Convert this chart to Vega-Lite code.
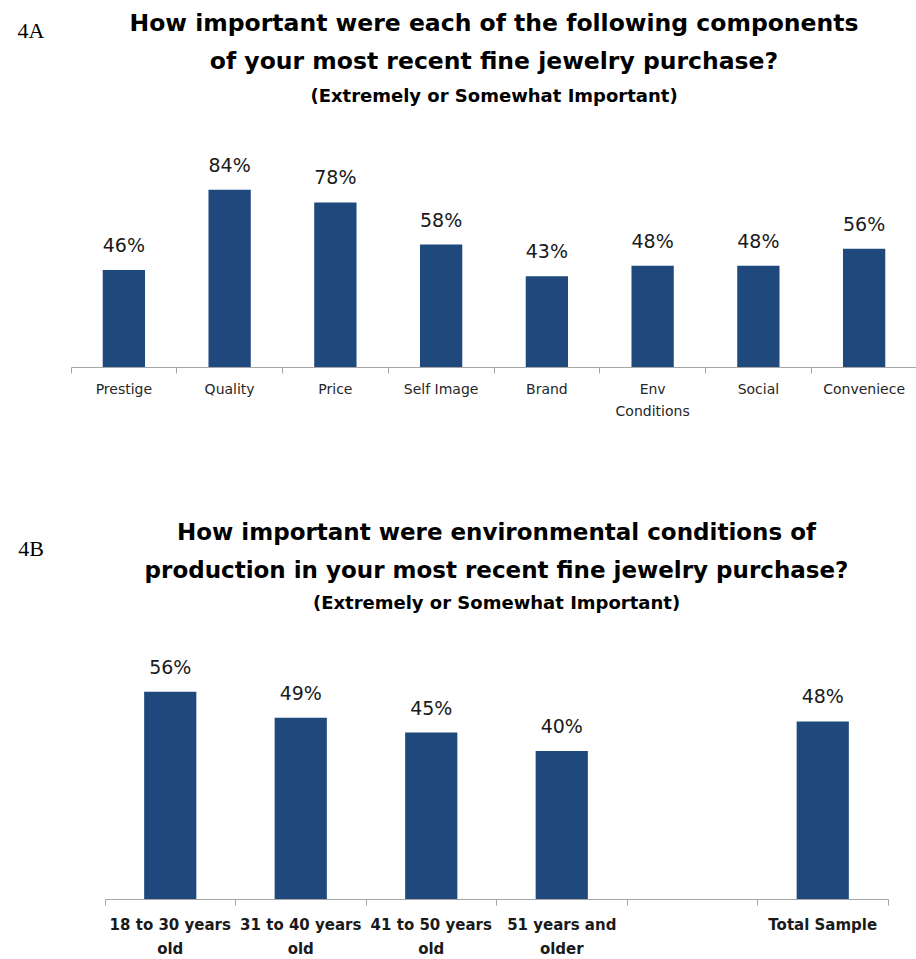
{
  "$schema": "https://vega.github.io/schema/vega-lite/v6.json",
  "padding": {"top": 11, "left": 0, "right": 0, "bottom": 0},
  "background": "white",
  "config": {"view": {"stroke": null}, "font": "DejaVu Sans"},
  "spacing": 103,
  "vconcat": [
    {
      "spacing": 8,
      "hconcat": [
        {
          "width": 62, "height": 1,
          "data": {"values": [{"tag": "4A"}]},
          "mark": {"type": "text", "font": "Liberation Serif", "fontSize": 22, "color": "black", "baseline": "middle", "dy": -126},
          "encoding": {"text": {"field": "tag"}}
        },
        {
          "title": {
            "text": ["How important were each of the following components", "of your most recent fine jewelry purchase?"],
            "subtitle": "(Extremely or Somewhat Important)",
            "fontSize": 23.5, "fontWeight": "bold", "lineHeight": 38, "color": "black", "font": "DejaVu Sans",
            "subtitleFont": "DejaVu Sans", "subtitleFontSize": 18, "subtitleFontWeight": "bold", "subtitleColor": "black",
            "subtitlePadding": 15, "offset": 50, "anchor": "middle"
          },
          "width": 846, "height": 211,
          "data": {"values": [
            {"component": "Prestige", "share": 0.46},
            {"component": "Quality", "share": 0.84},
            {"component": "Price", "share": 0.78},
            {"component": "Self Image", "share": 0.58},
            {"component": "Brand", "share": 0.43},
            {"component": "Env Conditions", "share": 0.48},
            {"component": "Social", "share": 0.48},
            {"component": "Conveniece", "share": 0.56}
          ]},
          "encoding": {
            "y": {"field": "share", "type": "quantitative", "scale": {"domain": [0, 1]}, "axis": null}
          },
          "layer": [
            {
              "mark": {"type": "bar", "color": "#1F497D", "width": {"band": 0.4}},
              "encoding": {
                "x": {
                  "field": "component", "type": "nominal", "sort": null,
                  "scale": {"paddingInner": 0, "paddingOuter": 0},
                  "axis": {
                    "title": null, "orient": "bottom", "labelAngle": 0, "ticks": false, "domain": false,
                    "labelFont": "DejaVu Sans", "labelFontSize": 14, "labelColor": "#262626",
                    "labelPadding": 15, "labelLineHeight": 22,
                    "labelExpr": "datum.value == 'Env Conditions' ? ['Env', 'Conditions'] : datum.value"
                  }
                }
              }
            },
            {
              "mark": {"type": "text", "dy": -24, "baseline": "middle", "fontSize": 19, "color": "#1a1a1a", "font": "DejaVu Sans"},
              "encoding": {
                "x": {
                  "field": "component", "type": "nominal", "sort": null,
                  "scale": {"paddingInner": 0, "paddingOuter": 0},
                  "axis": {
                    "title": null, "orient": "bottom", "labels": false, "ticks": true, "domain": true,
                    "bandPosition": 1, "tickExtra": true,
                    "domainColor": "#A6A6A6", "tickColor": "#A6A6A6", "tickSize": 6
                  }
                },
                "text": {"field": "share", "type": "quantitative", "format": ".0%"}
              }
            }
          ],
          "resolve": {"axis": {"x": "independent"}}
        }
      ]
    },
    {
      "spacing": 42,
      "hconcat": [
        {
          "width": 62, "height": 1,
          "data": {"values": [{"tag": "4B"}]},
          "mark": {"type": "text", "font": "Liberation Serif", "fontSize": 22, "color": "black", "baseline": "middle", "dy": -129},
          "encoding": {"text": {"field": "tag"}}
        },
        {
          "title": {
            "text": ["How important were environmental conditions of", "production in your most recent fine jewelry purchase?"],
            "subtitle": "(Extremely or Somewhat Important)",
            "fontSize": 23, "fontWeight": "bold", "lineHeight": 38, "color": "black", "font": "DejaVu Sans",
            "subtitleFont": "DejaVu Sans", "subtitleFontSize": 18, "subtitleFontWeight": "bold", "subtitleColor": "black",
            "subtitlePadding": 12, "offset": 46, "anchor": "middle"
          },
          "width": 783, "height": 222,
          "data": {"values": [
            {"group": "18 to 30 years old", "share": 0.56},
            {"group": "31 to 40 years old", "share": 0.49},
            {"group": "41 to 50 years old", "share": 0.45},
            {"group": "51 years and older", "share": 0.40},
            {"group": "Total Sample", "share": 0.48}
          ]},
          "encoding": {
            "y": {"field": "share", "type": "quantitative", "scale": {"domain": [0, 0.6]}, "axis": null}
          },
          "layer": [
            {
              "mark": {"type": "bar", "color": "#1F497D", "width": {"band": 0.4}},
              "encoding": {
                "x": {
                  "field": "group", "type": "nominal",
                  "scale": {"domain": ["18 to 30 years old", "31 to 40 years old", "41 to 50 years old", "51 years and older", "gap", "Total Sample"], "paddingInner": 0, "paddingOuter": 0},
                  "axis": {
                    "title": null, "orient": "bottom", "labelAngle": 0, "ticks": false, "domain": false,
                    "labelFont": "DejaVu Sans", "labelFontSize": 15, "labelFontWeight": "bold", "labelColor": "#1a1a1a",
                    "labelPadding": 18, "labelLineHeight": 24,
                    "labelExpr": "datum.value == 'gap' ? '' : datum.value == '51 years and older' ? ['51 years and', 'older'] : indexof(datum.value, ' old') > 0 ? [slice(datum.value, 0, -4), 'old'] : datum.value"
                  }
                }
              }
            },
            {
              "mark": {"type": "text", "dy": -24, "baseline": "middle", "fontSize": 19, "color": "#1a1a1a", "font": "DejaVu Sans"},
              "encoding": {
                "x": {
                  "field": "group", "type": "nominal",
                  "scale": {"domain": ["18 to 30 years old", "31 to 40 years old", "41 to 50 years old", "51 years and older", "gap", "Total Sample"], "paddingInner": 0, "paddingOuter": 0},
                  "axis": {
                    "title": null, "orient": "bottom", "labels": false, "ticks": true, "domain": true,
                    "bandPosition": 1, "tickExtra": true,
                    "domainColor": "#A6A6A6", "tickColor": "#A6A6A6", "tickSize": 6
                  }
                },
                "text": {"field": "share", "type": "quantitative", "format": ".0%"}
              }
            }
          ],
          "resolve": {"axis": {"x": "independent"}}
        }
      ]
    }
  ]
}
